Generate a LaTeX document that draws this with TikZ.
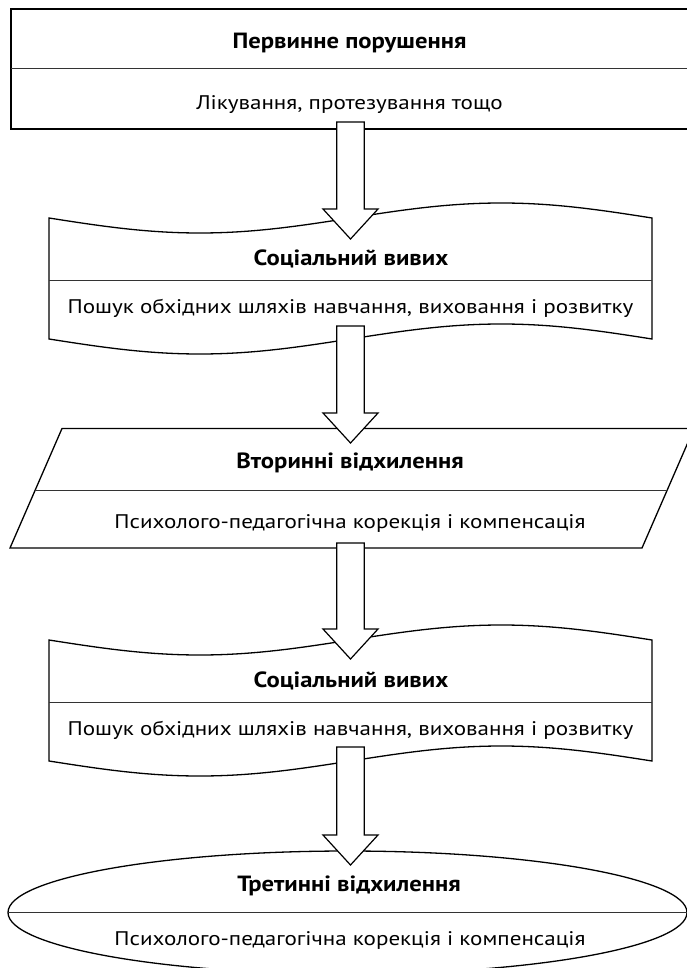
\documentclass[tikz,border=0pt]{standalone}
\usepackage{fontspec}
\setmainfont{PT Sans}
\newfontfamily\regfont[FakeStretch=1.17]{PT Sans}
\newfontfamily\boldfont[FakeStretch=1.12]{PT Sans}
\usetikzlibrary{calc}
\tikzset{
  outline/.style={draw=black, line width=1.3pt},
  thickline/.style={draw=black, line width=2pt},
  divline/.style={draw=black!80, line width=1pt},
  barrow/.style={draw=black, line width=1.2pt, fill=white, line join=miter},
  title/.style={font=\boldfont\bfseries\fontsize{22}{26}\selectfont, inner sep=0pt, anchor=base},
  body/.style={font=\regfont\fontsize{19.7}{24}\selectfont, inner sep=0pt, anchor=base},
}
\newcommand{\blockarrowdraw}[2]{%
  \draw[barrow] ($(#1)+(-13.75,0)$) -- ($(#2)+(-13.75,-30)$) -- ($(#2)+(-27.5,-30)$)
    -- (#2) -- ($(#2)+(27.5,-30)$) -- ($(#2)+(13.75,-30)$) -- ($(#1)+(13.75,0)$) -- cycle;}
\begin{document}
\begin{tikzpicture}[x=1pt,y=-1pt]
\useasboundingbox (0,0) rectangle (687,968);
\clip (0,0) rectangle (687,968);

% Box 1
\draw[thickline] (10.5,9.5) rectangle (700,129);
\draw[divline] (10.5,69) -- (700,69);
\node[title] (t1) at (349.5,48.5) {Первинне порушення};
\node[body] (b1) at (349.5,109.5) {Лікування, протезування тощо};

% Box 2 (tape)
\draw[outline] (49,218) sin (199.75,233) cos (350.5,218) sin (501.25,203) cos (652,218)
  -- (652,339) sin (501.25,324) cos (350.5,339) sin (199.75,354) cos (49,339) -- cycle;
\draw[divline] (49,280) -- (652,280);
\node[title] (t2) at (351,265) {Соціальний вивих};
\node[body] (b2) at (350.5,313) {Пошук обхідних шляхів навчання, виховання і розвитку};

% Box 3 (parallelogram)
\draw[outline] (62,428.5) -- (694,428.5) -- (642,548) -- (10,548) -- cycle;
\draw[divline] (36,490) -- (667,490);
\node[title] (t3) at (350,468) {Вторинні відхилення};
\node[body] (b3) at (350,528.5) {Психолого-педагогічна корекція і компенсація};

% Box 4 (tape)
\begin{scope}[yshift=-422pt]
\draw[outline] (49,218) sin (199.75,233) cos (350.5,218) sin (501.25,203) cos (652,218)
  -- (652,339) sin (501.25,324) cos (350.5,339) sin (199.75,354) cos (49,339) -- cycle;
\draw[divline] (49,280) -- (652,280);
\end{scope}
\node[title] (t4) at (351,687) {Соціальний вивих};
\node[body] (b4) at (350.5,735) {Пошук обхідних шляхів навчання, виховання і розвитку};

% Ellipse
\draw[outline] (347.5,912.5) ellipse [x radius=339.5, y radius=61.5];
\draw[divline] (8,912.5) -- (687,912.5);
\node[title] (t5) at (349,891.5) {Третинні відхилення};
\node[body] (b5) at (350,945.5) {Психолого-педагогічна корекція і компенсація};

% Block arrows
\coordinate (a1s) at (350.5,122); \coordinate (a1e) at (350.5,239);
\coordinate (a2s) at (350.5,326); \coordinate (a2e) at (350.5,443);
\coordinate (a3s) at (350.5,543); \coordinate (a3e) at (350.5,659);
\coordinate (a4s) at (350.5,747); \coordinate (a4e) at (350.5,865);
\blockarrowdraw{a1s}{a1e}
\blockarrowdraw{a2s}{a2e}
\blockarrowdraw{a3s}{a3e}
\blockarrowdraw{a4s}{a4e}
\end{tikzpicture}
\end{document}
